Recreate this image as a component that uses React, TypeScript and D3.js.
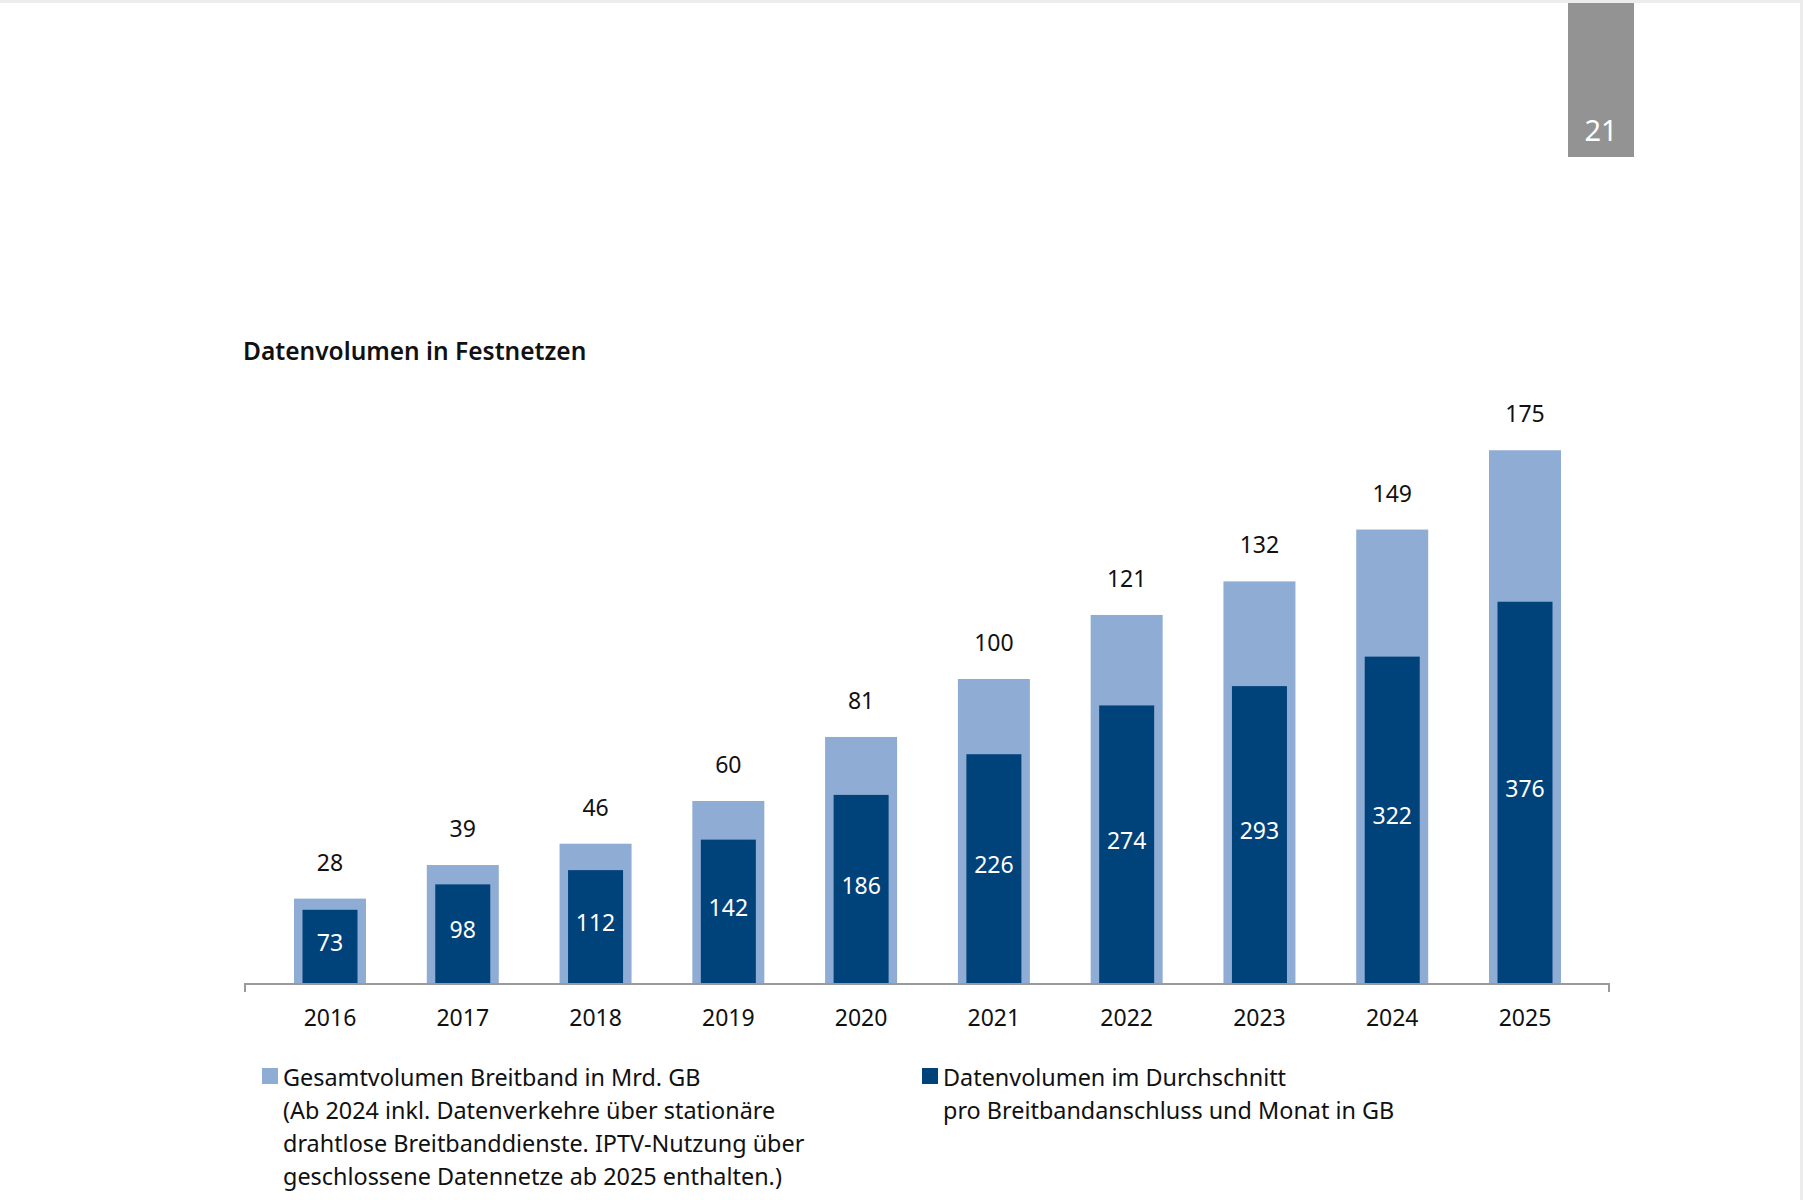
import React, { useEffect, useRef } from 'react';
import * as d3 from 'd3';

const years = ["2016", "2017", "2018", "2019", "2020", "2021", "2022", "2023", "2024", "2025"];
const totalVolume = [28, 39, 46, 60, 81, 100, 121, 132, 149, 175];
const perConnection = [73, 98, 112, 142, 186, 226, 274, 293, 322, 376];

const legendTotal = [
  "Gesamtvolumen Breitband in Mrd. GB",
  "(Ab 2024 inkl. Datenverkehre über stationäre",
  "drahtlose Breitbanddienste. IPTV-Nutzung über",
  "geschlossene Datennetze ab 2025 enthalten.)",
];
const legendAvg = [
  "Datenvolumen im Durchschnitt",
  "pro Breitbandanschluss und Monat in GB",
];

const LIGHT = "#8fadd4";
const DARK = "#00427a";
const FONT = "'Noto Sans', sans-serif";

const App: React.FC = () => {
  const ref = useRef<SVGSVGElement | null>(null);

  useEffect(() => {
    if (!ref.current) return;
    const svg = d3.select(ref.current);
    svg.selectAll("*").remove();

    const W = 1803, H = 1200;
    const base = 984, top = 374;

    // page frame
    svg.append("rect").attr("x", 0).attr("y", 0).attr("width", W).attr("height", 3).attr("fill", "#ececec");
    svg.append("rect").attr("x", W - 3).attr("y", 0).attr("width", 3).attr("height", H).attr("fill", "#ececec");

    // page number box
    svg.append("rect").attr("x", 1568).attr("y", 3).attr("width", 66).attr("height", 154).attr("fill", "#939393");
    svg.append("text").attr("x", 1601).attr("y", 141).attr("text-anchor", "middle")
      .attr("font-family", FONT).attr("font-size", 29).attr("fill", "#fff").text("21");

    svg.append("text").attr("x", 243).attr("y", 360)
      .attr("font-family", FONT).attr("font-size", 24.5).attr("font-weight", 600).attr("fill", "#111")
      .text("Datenvolumen in Festnetzen");

    const x = d3.scalePoint<string>().domain(years).range([330, 1525]);
    const yTotal = d3.scaleLinear().domain([0, 200]).range([base, top]);
    const yAvg = d3.scaleLinear().domain([0, 600]).range([base, top]);

    const outerW = 72, innerW = 55;

    const g = svg.append("g");
    g.selectAll("rect.total")
      .data(years)
      .join("rect")
      .attr("class", "total")
      .attr("x", d => (x(d) as number) - outerW / 2)
      .attr("y", (d, i) => yTotal(totalVolume[i]))
      .attr("width", outerW)
      .attr("height", (d, i) => base - yTotal(totalVolume[i]))
      .attr("fill", LIGHT);

    g.selectAll("rect.avg")
      .data(years)
      .join("rect")
      .attr("class", "avg")
      .attr("x", d => (x(d) as number) - innerW / 2)
      .attr("y", (d, i) => yAvg(perConnection[i]))
      .attr("width", innerW)
      .attr("height", (d, i) => base - yAvg(perConnection[i]))
      .attr("fill", DARK);

    g.selectAll("text.totalLbl")
      .data(years)
      .join("text")
      .attr("class", "totalLbl")
      .attr("x", d => x(d) as number)
      .attr("y", (d, i) => yTotal(totalVolume[i]) - 28)
      .attr("text-anchor", "middle")
      .attr("font-family", FONT).attr("font-size", 23).attr("fill", "#111")
      .text((d, i) => totalVolume[i]);

    g.selectAll("text.avgLbl")
      .data(years)
      .join("text")
      .attr("class", "avgLbl")
      .attr("x", d => x(d) as number)
      .attr("y", (d, i) => (yAvg(perConnection[i]) + base) / 2 - 4)
      .attr("dy", "0.35em")
      .attr("text-anchor", "middle")
      .attr("font-family", FONT).attr("font-size", 23).attr("fill", "#fff")
      .text((d, i) => perConnection[i]);

    // axis line
    svg.append("path")
      .attr("d", `M245,992V984H1609V992`)
      .attr("fill", "none").attr("stroke", "#9a9a9a").attr("stroke-width", 2);

    g.selectAll("text.year")
      .data(years)
      .join("text")
      .attr("class", "year")
      .attr("x", d => x(d) as number)
      .attr("y", 1026)
      .attr("text-anchor", "middle")
      .attr("font-family", FONT).attr("font-size", 23).attr("fill", "#111")
      .text(d => d);

    // legend
    const leg1 = svg.append("g").attr("transform", "translate(262,1068)");
    leg1.append("rect").attr("width", 16).attr("height", 16).attr("fill", LIGHT);
    leg1.selectAll("text").data(legendTotal).join("text")
      .attr("x", 21).attr("y", (d, i) => 18 + i * 33)
      .attr("font-family", FONT).attr("font-size", 23.4).attr("fill", "#111")
      .text(d => d);

    const leg2 = svg.append("g").attr("transform", "translate(922,1068)");
    leg2.append("rect").attr("width", 16).attr("height", 16).attr("fill", DARK);
    leg2.selectAll("text").data(legendAvg).join("text")
      .attr("x", 21).attr("y", (d, i) => 18 + i * 33)
      .attr("font-family", FONT).attr("font-size", 23.4).attr("fill", "#111")
      .text(d => d);
  }, []);

  return (
    <svg ref={ref} width={1803} height={1200}
      style={{ position: "absolute", left: 0, top: 0, background: "#fff" }} />
  );
};

export default App;
